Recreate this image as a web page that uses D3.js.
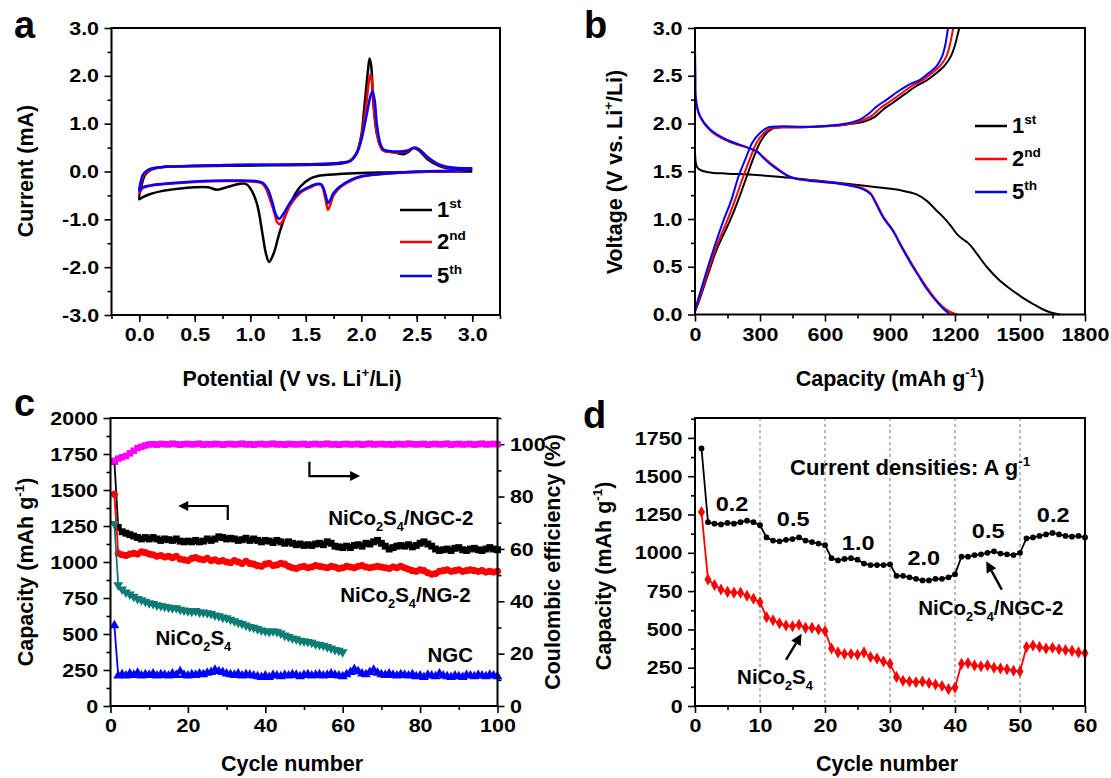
<!DOCTYPE html>
<html><head><meta charset="utf-8">
<script src="https://cdn.jsdelivr.net/npm/d3@7"></script>
<style>
body{margin:0;background:#fff}
svg text{font-family:"Liberation Sans",Arial,sans-serif;font-weight:bold;fill:#000}
</style></head><body>
<svg id="chart" width="1111" height="778"></svg>
<script>
// ---------------- DATA ----------------
// (a) Cyclic voltammetry: [potential V, current mA]
const cv1st = [[3.0,0.0],[2.8,0.0],[2.5,-0.01],[2.2,-0.02],[2.0,-0.03],[1.8,-0.05],[1.7,-0.07],[1.6,-0.1],[1.54,-0.15],[1.45,-0.32],[1.36,-0.67],[1.27,-1.23],[1.21,-1.72],[1.17,-1.89],[1.14,-1.7],[1.11,-1.3],[1.06,-0.67],[1.0,-0.35],[0.96,-0.26],[0.9,-0.26],[0.8,-0.32],[0.7,-0.38],[0.62,-0.33],[0.5,-0.33],[0.35,-0.36],[0.2,-0.41],[0.1,-0.47],[0.02,-0.55],[0.0,-0.58],
  [0.02,-0.3],[0.05,-0.08],[0.1,0.03],[0.2,0.09],[0.4,0.11],[0.8,0.12],[1.2,0.13],[1.6,0.14],[1.8,0.16],[1.9,0.22],[1.96,0.4],[2.0,0.75],[2.03,1.4],[2.06,2.1],[2.075,2.36],[2.09,2.2],[2.11,1.4],[2.14,0.8],[2.18,0.5],[2.22,0.42],[2.3,0.4],[2.38,0.36],[2.43,0.42],[2.47,0.49],[2.52,0.44],[2.6,0.25],[2.7,0.12],[2.8,0.06],[2.9,0.03],[3.0,0.02]];
const cv2nd = [[3.0,0.06],[2.9,0.02],[2.7,0.0],[2.5,-0.01],[2.3,-0.03],[2.1,-0.07],[2.0,-0.11],[1.9,-0.2],[1.8,-0.35],[1.75,-0.5],[1.72,-0.7],[1.7,-0.8],[1.68,-0.6],[1.66,-0.4],[1.64,-0.28],[1.6,-0.27],[1.55,-0.32],[1.45,-0.45],[1.36,-0.7],[1.3,-1.0],[1.27,-1.1],[1.24,-1.05],[1.22,-0.88],[1.18,-0.6],[1.14,-0.35],[1.1,-0.24],[1.0,-0.21],[0.8,-0.2],[0.5,-0.22],[0.3,-0.25],[0.1,-0.3],[0.03,-0.35],[0.0,-0.45],
  [0.01,-0.3],[0.03,-0.12],[0.07,0.0],[0.12,0.06],[0.25,0.1],[0.5,0.12],[1.0,0.14],[1.5,0.15],[1.8,0.18],[1.9,0.23],[1.96,0.4],[2.0,0.7],[2.04,1.3],[2.07,1.9],[2.085,2.03],[2.1,1.8],[2.12,1.2],[2.15,0.7],[2.19,0.45],[2.25,0.41],[2.35,0.4],[2.42,0.43],[2.48,0.49],[2.53,0.44],[2.6,0.28],[2.7,0.14],[2.8,0.08],[2.9,0.06],[3.0,0.06]];
const cv5th = [[3.0,0.06],[2.9,0.03],[2.7,0.01],[2.5,0.0],[2.3,-0.03],[2.1,-0.07],[2.0,-0.1],[1.9,-0.18],[1.8,-0.33],[1.75,-0.45],[1.72,-0.6],[1.7,-0.66],[1.68,-0.5],[1.66,-0.35],[1.64,-0.27],[1.6,-0.26],[1.55,-0.3],[1.45,-0.42],[1.36,-0.65],[1.3,-0.88],[1.26,-0.99],[1.23,-0.9],[1.2,-0.65],[1.16,-0.38],[1.12,-0.25],[1.05,-0.2],[0.8,-0.19],[0.5,-0.21],[0.3,-0.24],[0.1,-0.29],[0.03,-0.33],[0.0,-0.4],
  [0.01,-0.25],[0.03,-0.08],[0.07,0.02],[0.12,0.07],[0.25,0.1],[0.5,0.12],[1.0,0.14],[1.5,0.15],[1.8,0.18],[1.9,0.22],[1.96,0.38],[2.0,0.65],[2.05,1.2],[2.08,1.55],[2.1,1.68],[2.12,1.5],[2.14,1.0],[2.17,0.6],[2.2,0.46],[2.25,0.43],[2.35,0.42],[2.42,0.44],[2.48,0.5],[2.53,0.45],[2.6,0.3],[2.7,0.15],[2.8,0.09],[2.9,0.07],[3.0,0.07]];
const cvLegend = ["1st","2nd","5th"];

// (b) Charge/discharge profiles: [capacity mAh/g, voltage V]
const dis1st = [[0,1.70],[3,1.6],[8,1.55],[20,1.52],[60,1.49],[150,1.475],[250,1.465],[400,1.44],[550,1.405],[700,1.37],[850,1.33],[950,1.30],[1020,1.26],[1070,1.19],[1110,1.1],[1146,1.02],[1180,0.93],[1208,0.845],[1235,0.79],[1260,0.75],[1290,0.67],[1346,0.5],[1400,0.37],[1454,0.27],[1510,0.18],[1561,0.11],[1600,0.06],[1638,0.024],[1685,0.0]];
const chg1st = [[0,0.03],[20,0.15],[60,0.42],[100,0.68],[161,0.98],[200,1.2],[238,1.44],[270,1.64],[300,1.8],[330,1.9],[361,1.95],[400,1.96],[500,1.96],[600,1.97],[700,1.99],[780,2.02],[830,2.07],[870,2.15],[915,2.22],[970,2.31],[1020,2.39],[1069,2.45],[1110,2.52],[1150,2.6],[1180,2.7],[1200,2.82],[1212,2.93],[1220,3.0]];
const dis2nd = [[0,2.32],[5,2.2],[23,2.07],[69,1.93],[146,1.82],[254,1.735],[290,1.7],[315,1.65],[350,1.58],[392,1.51],[430,1.45],[469,1.42],[550,1.40],[623,1.385],[700,1.36],[777,1.32],[810,1.27],[838,1.16],[870,1.02],[915,0.88],[950,0.73],[992,0.565],[1030,0.42],[1069,0.286],[1110,0.16],[1146,0.076],[1180,0.025],[1210,0.0]];
const chg2nd = [[0,0.03],[20,0.17],[60,0.45],[100,0.72],[148,0.98],[185,1.2],[222,1.44],[255,1.64],[285,1.8],[318,1.9],[350,1.95],[400,1.96],[500,1.96],[600,1.97],[700,1.99],[770,2.03],[815,2.08],[855,2.16],[900,2.23],[955,2.32],[1005,2.4],[1055,2.46],[1095,2.53],[1130,2.6],[1160,2.7],[1176,2.82],[1186,2.93],[1192,3.0]];
const dis5th = [[0,2.82],[2,2.5],[5,2.25],[23,2.08],[69,1.94],[146,1.83],[254,1.74],[290,1.7],[315,1.64],[350,1.57],[392,1.5],[430,1.45],[469,1.42],[550,1.395],[623,1.38],[700,1.355],[777,1.31],[810,1.26],[838,1.15],[870,1.01],[915,0.87],[950,0.72],[992,0.55],[1030,0.41],[1069,0.27],[1110,0.15],[1146,0.06],[1178,0.0]];
const chg5th = [[0,0.05],[20,0.2],[60,0.5],[100,0.78],[131,0.98],[168,1.2],[200,1.44],[235,1.64],[265,1.8],[300,1.9],[338,1.96],[400,1.97],[500,1.965],[600,1.975],[700,2.0],[760,2.04],[800,2.1],[840,2.18],[885,2.25],[940,2.34],[990,2.41],[1040,2.46],[1080,2.53],[1115,2.6],[1140,2.7],[1155,2.82],[1163,2.93],[1168,3.0]];

// (c) Cycling performance (cycle 1..N)
const capNGC2 = [1700,1240,1210,1200,1190,1180,1170,1160,1170,1160,1170,1160,1150,1160,1155,1150,1160,1145,1140,1145,1140,1150,1140,1145,1160,1150,1160,1175,1170,1160,1165,1160,1150,1155,1165,1150,1160,1150,1140,1150,1145,1135,1150,1140,1130,1140,1130,1120,1125,1115,1120,1115,1125,1130,1120,1140,1130,1110,1105,1100,1110,1100,1115,1120,1110,1130,1125,1140,1150,1130,1110,1090,1100,1110,1115,1110,1120,1105,1115,1130,1140,1125,1110,1090,1080,1085,1090,1080,1095,1100,1085,1080,1090,1095,1085,1080,1090,1100,1090,1085];
const capNG2 = [1470,1060,1050,1045,1055,1060,1055,1070,1065,1055,1050,1040,1045,1035,1040,1030,1040,1020,1015,1010,1025,1030,1020,1015,1025,1010,1015,1005,1010,1000,995,1010,1000,990,1005,990,985,975,970,985,990,975,980,990,985,970,960,955,965,970,960,965,975,970,965,960,970,965,955,960,970,965,960,970,975,965,960,965,970,965,960,955,965,960,970,960,950,940,935,945,940,925,915,920,935,940,945,935,940,945,935,940,945,940,935,940,930,935,930,935];
const capNCS = [1265,840,810,790,775,760,745,735,725,715,710,700,695,690,685,680,680,670,665,660,655,660,650,650,645,640,630,625,615,610,600,590,580,570,560,550,545,535,525,520,515,520,515,505,490,480,470,465,455,450,445,440,430,425,420,410,400,390,385,375];
const capNGC = [560,210,220,210,225,215,230,210,220,215,225,210,220,215,210,225,215,240,215,210,220,215,225,220,230,235,250,240,235,225,220,215,225,210,220,215,210,205,200,210,200,215,210,205,215,210,220,215,205,215,220,210,215,220,210,215,225,215,210,205,220,235,255,240,225,220,235,250,230,220,215,225,215,210,220,215,210,220,205,210,200,215,210,205,225,210,205,200,210,205,200,215,210,205,215,210,205,215,210,205];
const ceNGC2 = [93.5,94.5,95,95.5,96.5,97.5,98.5,99,99.5,99.9,100,99.8,100.1,100,99.9,100.2,100,99.8,100,100.1,99.9,100,100.2,99.8,100,99.9,100.1,100,99.8,100,100.1,99.9,100,100.2,99.9,100,99.8,100,100.1,99.9,100,100.2,99.9,100,99.8,100.1,100,99.9,100,100.1,99.8,100,100.1,99.9,100,100.2,99.9,100,99.8,100,100.1,99.9,100,100.1,99.8,100,100.2,99.9,100,100.1,99.9,100,99.8,100.1,100,99.9,100.2,100,99.9,100,100.1,99.8,100,100.1,99.9,100,100.2,99.8,100,100.1,99.9,100,100.1,99.8,100,100.2,99.9,100,100.1,100];

// (d) Rate capability (cycle 1..60)
const rateNGC2 = [1681,1200,1190,1185,1195,1190,1200,1210,1200,1180,1100,1080,1075,1085,1090,1100,1080,1070,1060,1050,965,950,960,965,955,930,920,920,920,925,850,850,840,830,820,820,830,830,840,860,975,975,985,990,1000,1010,995,990,985,1000,1095,1100,1110,1120,1130,1120,1110,1105,1110,1100];
const rateNCS = [1266,826,790,760,745,740,740,720,700,677,580,560,540,525,520,530,510,510,500,490,375,350,340,340,335,350,320,310,290,275,190,165,160,155,160,150,140,130,110,120,275,280,265,260,265,250,245,240,230,225,385,395,385,375,380,370,365,360,350,345];
const rateSteps = [10,20,30,40,50];
const rateLabels = [["0.2",5.7,1316],["0.5",15.1,1218],["1.0",25.1,1061],["2.0",35.2,969],["0.5",45.1,1140],["0.2",55.1,1244]];

// ---------------- DRAW ----------------
const svg = d3.select("#chart");
const FF = '"Liberation Sans", Arial, sans-serif';
const TICK_FS = 19, TICK_SX = 1.13, TITLE_FS = 21.5, LETTER_FS = 38;

function styleAxis(sel){
  sel.select(".domain").remove();
  sel.selectAll(".tick line").attr("stroke","#000").attr("stroke-width",1.6);
  sel.selectAll(".tick text").attr("font-size",TICK_FS).attr("font-weight","bold")
     .attr("font-family",FF).attr("fill","#000").attr("transform",`scale(${TICK_SX},1)`);
}
function axes(g, x, y, c){
  const yb = y.range()[0], xl = x.range()[0];
  g.append("g").attr("transform",`translate(0,${yb})`)
    .call(d3.axisBottom(x).tickValues(c.xMinor).tickSize(4).tickFormat("")).call(styleAxis);
  g.append("g").attr("transform",`translate(0,${yb})`)
    .call(d3.axisBottom(x).tickValues(c.xMajor).tickSize(7).tickPadding(6).tickFormat(c.xFmt)).call(styleAxis);
  g.append("g").attr("transform",`translate(${xl},0)`)
    .call(d3.axisLeft(y).tickValues(c.yMinor).tickSize(4).tickFormat("")).call(styleAxis);
  g.append("g").attr("transform",`translate(${xl},0)`)
    .call(d3.axisLeft(y).tickValues(c.yMajor).tickSize(7).tickPadding(4).tickFormat(c.yFmt)).call(styleAxis);
}
function frame(g, x, y){
  const [x0,x1]=x.range(), [y0,y1]=y.range();
  g.append("rect").attr("x",x0).attr("y",y1).attr("width",x1-x0).attr("height",y0-y1)
    .attr("fill","none").attr("stroke","#000").attr("stroke-width",2);
}
function rich(g, x, y, parts, fs, anchor, rot){
  const t = g.append("text").attr("font-size",fs).attr("text-anchor",anchor||"middle")
    .attr("transform",`translate(${x},${y}) rotate(${rot||0})`);
  let shift = 0;
  parts.forEach(p=>{
    const k = p[1];
    const want = k==="sub" ? 0.3*fs : k==="sup" ? -0.42*fs : 0;
    t.append("tspan").attr("dy", want-shift).attr("font-size", k ? 0.62*fs : fs).text(p[0]);
    shift = want;
  });
  return t;
}
const range = (a,b,s)=>d3.range(a,b+1e-9,s);
const fmt1 = d=>d.toFixed(1);
const fmt0 = d=>String(d);

// ===== Panel a =====
{
  const g = svg.append("g");
  const x = d3.scaleLinear([-0.25,3.25],[111.5,500]);
  const y = d3.scaleLinear([-3,3],[315,28]);
  axes(g,x,y,{xMajor:range(0,3,0.5),xMinor:range(-0.25,3.25,0.25),xFmt:fmt1,
              yMajor:range(-3,3,1),yMinor:range(-2.5,2.5,1),yFmt:fmt1});
  const line = d3.line().x(d=>x(d[0])).y(d=>y(d[1])).curve(d3.curveCatmullRom.alpha(0.5));
  const series = [[cv1st,"#000000"],[cv2nd,"#ff0000"],[cv5th,"#0000ff"]];
  series.forEach(([d,c])=>g.append("path").attr("d",line(d)).attr("fill","none")
      .attr("stroke",c).attr("stroke-width",2.5).attr("stroke-linejoin","round"));
  frame(g,x,y);
  series.forEach(([d,c],i)=>{
    const ly = [210,242,276][i];
    g.append("line").attr("x1",400).attr("x2",432).attr("y1",ly).attr("y2",ly).attr("stroke",c).attr("stroke-width",2.5);
    rich(g,437,ly+7,[[cvLegend[i][0]],[cvLegend[i].slice(1),"sup"]],22,"start");
  });
  g.append("text").attr("x",14).attr("y",38).attr("font-size",LETTER_FS).text("a");
  rich(g,33,171,[["Current  (mA)"]],TITLE_FS,"middle",-90);
  rich(g,292,386,[["Potential (V vs. Li"],["+","sup"],["/Li)"]],TITLE_FS,"middle");
}

// ===== Panel b =====
{
  const g = svg.append("g");
  const x = d3.scaleLinear([0,1800],[695,1085]);
  const y = d3.scaleLinear([0,3],[314.5,28]);
  axes(g,x,y,{xMajor:range(0,1800,300),xMinor:range(150,1650,300),xFmt:fmt0,
              yMajor:range(0,3,0.5),yMinor:range(0.25,2.75,0.5),yFmt:fmt1});
  const line = d3.line().x(d=>x(d[0])).y(d=>y(d[1])).curve(d3.curveCatmullRom.alpha(0.5));
  const series = [[dis1st,chg1st,"#000000"],[dis2nd,chg2nd,"#ff0000"],[dis5th,chg5th,"#0000ff"]];
  series.forEach(([a,b,c])=>[a,b].forEach(d=>g.append("path").attr("d",line(d)).attr("fill","none")
      .attr("stroke",c).attr("stroke-width",2).attr("stroke-linejoin","round")));
  frame(g,x,y);
  series.forEach(([a,b,c],i)=>{
    const ly = [126,159,192][i];
    g.append("line").attr("x1",975).attr("x2",1007).attr("y1",ly).attr("y2",ly).attr("stroke",c).attr("stroke-width",2.5);
    rich(g,1012,ly+7,[[cvLegend[i][0]],[cvLegend[i].slice(1),"sup"]],22,"start");
  });
  g.append("text").attr("x",584).attr("y",38).attr("font-size",LETTER_FS).text("b");
  rich(g,622,172,[["Voltage (V vs. Li"],["+","sup"],["/Li)"]],TITLE_FS,"middle",-90);
  rich(g,890,386,[["Capacity (mAh g"],["-1","sup"],[")"]],TITLE_FS,"middle");
}

// ===== Panel c =====
{
  const g = svg.append("g");
  const x = d3.scaleLinear([0,100],[110.5,497.5]);
  const y = d3.scaleLinear([0,2000],[706,418]);
  const yR = d3.scaleLinear([0,110],[706,418]);
  axes(g,x,y,{xMajor:range(0,100,20),xMinor:range(10,90,20),xFmt:fmt0,
              yMajor:range(0,2000,250),yMinor:range(125,1875,250),yFmt:fmt0});
  const xr = x.range()[1];
  g.append("g").attr("transform",`translate(${xr},0)`)
    .call(d3.axisRight(yR).tickValues(range(10,110,20)).tickSize(4).tickFormat("")).call(styleAxis);
  g.append("g").attr("transform",`translate(${xr},0)`)
    .call(d3.axisRight(yR).tickValues(range(0,100,20)).tickSize(7).tickPadding(4).tickFormat(fmt0)).call(styleAxis);

  const plot = (data, ys, color, sym, size, rot)=>{
    const pts = data.map((v,i)=>[i+1,v]);
    g.append("path").attr("d",d3.line().x(d=>x(d[0])).y(d=>ys(d[1]))(pts))
      .attr("fill","none").attr("stroke",color).attr("stroke-width",1.8);
    g.append("g").selectAll("path").data(pts).join("path")
      .attr("transform",d=>`translate(${x(d[0])},${ys(d[1])}) rotate(${rot||0})`)
      .attr("d",d3.symbol().type(sym).size(size)).attr("fill",color);
  };
  plot(capNGC2,y,"#000000",d3.symbolSquare,48);
  plot(capNG2,y,"#ff0000",d3.symbolCircle,40);
  plot(capNCS,y,"#0e7c74",d3.symbolTriangle,42,180);
  plot(capNGC,y,"#0000ff",d3.symbolTriangle,42);
  plot(ceNGC2,yR,"#ff00ff",d3.symbolSquare,42);
  frame(g,x,y);

  const head = (px,py,dir)=>{
    g.append("path").attr("d",`M${px},${py} l${-dir*10},-5 l0,10 z`).attr("fill","#000");
  };
  const ax1 = x(30.3), ay1 = y(1292), ay2 = y(1389), ahx = x(17.5);
  g.append("path").attr("d",`M${ax1},${ay1} V${ay2} H${ahx+8}`).attr("fill","none").attr("stroke","#000").attr("stroke-width",2.2);
  head(ahx,ay2,-1);
  const bx1 = x(51.4), by1 = y(1697), by2 = y(1597), bhx = x(64.5);
  g.append("path").attr("d",`M${bx1},${by1} V${by2} H${bhx-8}`).attr("fill","none").attr("stroke","#000").attr("stroke-width",2.2);
  head(bhx,by2,1);

  rich(g,x(75),y(1306)+7,[["NiCo"],["2","sub"],["S"],["4","sub"],["/NGC-2"]],20.5,"middle");
  rich(g,x(76.2),y(771)+7,[["NiCo"],["2","sub"],["S"],["4","sub"],["/NG-2"]],20.5,"middle");
  rich(g,x(21.4),y(472)+7,[["NiCo"],["2","sub"],["S"],["4","sub"]],20.5,"middle");
  rich(g,x(87.8),y(354)+7,[["NGC"]],20.5,"middle");

  g.append("text").attr("x",14).attr("y",416).attr("font-size",LETTER_FS).text("c");
  rich(g,33,572,[["Capacity (mAh g"],["-1","sup"],[")"]],TITLE_FS,"middle",-90);
  rich(g,560,562,[["Coulombic efficiency (%)"]],TITLE_FS,"middle",-90);
  rich(g,292,771,[["Cycle number"]],TITLE_FS,"middle");
}

// ===== Panel d =====
{
  const g = svg.append("g");
  const x = d3.scaleLinear([0,60],[695,1085]);
  const y = d3.scaleLinear([0,1880],[706,418]);
  g.append("g").selectAll("line").data(rateSteps).join("line")
    .attr("x1",d=>x(d)).attr("x2",d=>x(d)).attr("y1",y.range()[1]).attr("y2",y.range()[0])
    .attr("stroke","#777").attr("stroke-width",1).attr("stroke-dasharray","3,3");
  axes(g,x,y,{xMajor:range(0,60,10),xMinor:range(5,55,10),xFmt:fmt0,
              yMajor:range(0,1750,250),yMinor:range(125,1875,250),yFmt:fmt0});
  const plot = (data,color,sym,size)=>{
    const pts = data.map((v,i)=>[i+1,v]);
    g.append("path").attr("d",d3.line().x(d=>x(d[0])).y(d=>y(d[1]))(pts))
      .attr("fill","none").attr("stroke",color).attr("stroke-width",1.8);
    g.append("g").selectAll("path").data(pts).join("path")
      .attr("transform",d=>`translate(${x(d[0])},${y(d[1])})`)
      .attr("d",d3.symbol().type(sym).size(size)).attr("fill",color);
  };
  plot(rateNGC2,"#000000",d3.symbolCircle,26);
  plot(rateNCS,"#ff0000",d3.symbolDiamond,42);
  frame(g,x,y);

  rich(g,x(33.1),y(1559)+8,[["Current densities: A g"],["-1","sup"]],22,"middle");
  rateLabels.forEach(([t,cx,cy])=>{
    const tt = rich(g,x(cx),y(cy)+7,[[t]],21,"middle");
    tt.attr("transform",`translate(${x(cx)},${y(cy)+7}) scale(1.12,1)`);
  });

  const arrow = (x1,y1,x2,y2)=>{
    const ang = Math.atan2(y2-y1,x2-x1);
    const L = 11, W = 5.5;
    const bx = x2 - L*Math.cos(ang), by = y2 - L*Math.sin(ang);
    g.append("line").attr("x1",x1).attr("y1",y1).attr("x2",bx).attr("y2",by).attr("stroke","#000").attr("stroke-width",2.4);
    g.append("path").attr("d",`M${x2},${y2} L${bx+W*Math.sin(ang)},${by-W*Math.cos(ang)} L${bx-W*Math.sin(ang)},${by+W*Math.cos(ang)} Z`).attr("fill","#000");
  };
  arrow(x(47.2),y(760),x(44.8),y(945));
  arrow(x(14),y(301),x(16.4),y(471));
  rich(g,x(45.5),y(642)+7,[["NiCo"],["2","sub"],["S"],["4","sub"],["/NGC-2"]],20.5,"middle");
  rich(g,x(12.3),y(190)+7,[["NiCo"],["2","sub"],["S"],["4","sub"]],20.5,"middle");

  g.append("text").attr("x",583).attr("y",428).attr("font-size",LETTER_FS).text("d");
  rich(g,611,576,[["Capacity (mAh g"],["-1","sup"],[")"]],TITLE_FS,"middle",-90);
  rich(g,887,771,[["Cycle number"]],TITLE_FS,"middle");
}
</script>
</body></html>
